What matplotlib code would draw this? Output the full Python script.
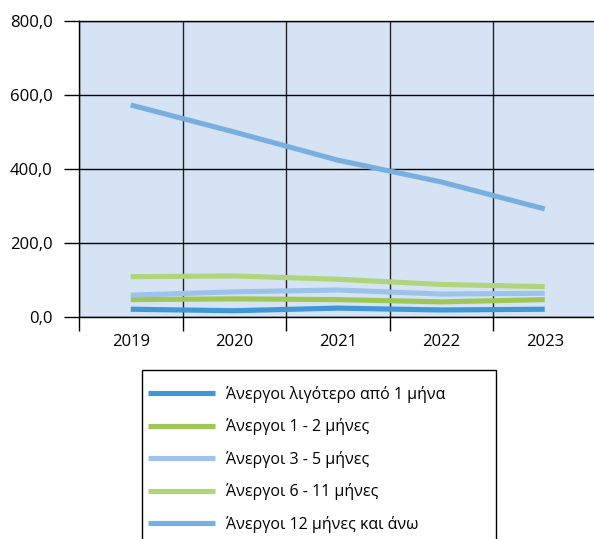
import numpy as np
import matplotlib
matplotlib.use("Agg")
import matplotlib.pyplot as plt
from matplotlib.ticker import FuncFormatter, FixedLocator
from matplotlib.patches import Rectangle

plt.rcParams['font.family'] = ['Open Sans', 'DejaVu Sans']

# data
years = ['2019', '2020', '2021', '2022', '2023']
less_1 = [21, 17, 24, 19, 21]
m_1_2 = [47, 49, 47, 41, 47]
m_3_5 = [59, 68, 73, 62, 64]
m_6_11 = [109, 111, 102, 88, 82]
m_12 = [573, 500, 424, 365, 292]

labels = ['Άνεργοι λιγότερο από 1 μήνα', 'Άνεργοι 1 - 2 μήνες',
          'Άνεργοι 3 - 5 μήνες', 'Άνεργοι 6 - 11 μήνες',
          'Άνεργοι 12 μήνες και άνω']
colors = ['#3f97d6', '#9fc757', '#9ec3ea', '#b1d37b', '#79afe0']
series = [less_1, m_1_2, m_3_5, m_6_11, m_12]

W, H = 594, 539
fig = plt.figure(figsize=(W / 100, H / 100), dpi=100)
ax = fig.add_axes([79 / W, (H - 317) / H, 517.5 / W, 296 / H])
ax.set_facecolor('#d5e3f4')

x = np.arange(len(years))
handles = []
for vals, c, lab in zip(series, colors, labels):
    h, = ax.plot(x, vals, color=c, lw=3.7, solid_capstyle='butt', label=lab)
    handles.append(h)

ax.set_xlim(-0.5, 4.5)
ax.set_ylim(0, 800)
ax.set_yticks([0, 200, 400, 600, 800])
ax.yaxis.set_major_formatter(FuncFormatter(lambda v, p: f'{v:.1f}'.replace('.', ',')))
ax.set_xticks(x)
ax.set_xticklabels(years)
ax.xaxis.set_minor_locator(FixedLocator([-0.5, 0.5, 1.5, 2.5, 3.5]))
ax.tick_params(axis='x', which='major', length=0, pad=12, labelsize=12)
ax.tick_params(axis='x', which='minor', length=10, width=1, color='black')
ax.tick_params(axis='y', length=11, width=1, pad=8, labelsize=12)
ax.grid(True, axis='y', which='major', color='black', lw=1)
ax.grid(True, axis='x', which='minor', color='#222222', lw=1)
ax.set_axisbelow(True)
for s in ax.spines.values():
    s.set_color('black')
    s.set_linewidth(1)

# legend box (bottom runs off the image)
fig.patches.append(Rectangle((142 / W, -0.05), (496 - 142) / W, (H - 370) / H + 0.05,
                             transform=fig.transFigure, facecolor='white',
                             edgecolor='black', lw=1))
fig.legend(handles=handles, loc='upper left', bbox_to_anchor=(148 / W, (H - 386) / H),
           frameon=False, fontsize=11.5, handlelength=4.2, handletextpad=0.7,
           labelspacing=0.97, borderaxespad=0, borderpad=0)

fig.savefig('out.png', dpi=100)
